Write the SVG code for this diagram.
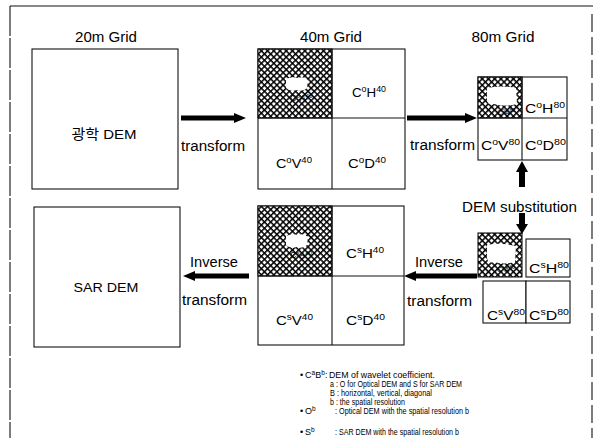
<svg xmlns="http://www.w3.org/2000/svg" width="595" height="438" viewBox="0 0 595 438">
<defs>
<pattern id="hatch" patternUnits="userSpaceOnUse" width="4.4" height="4.4" patternTransform="rotate(45)">
<rect width="4.4" height="4.4" fill="#fff"/>
<rect width="4.4" height="1.5" fill="#000"/>
<rect width="1.5" height="4.4" fill="#000"/>
</pattern>
<style>
text{font-family:"Liberation Sans",Arial,sans-serif;fill:#000}
.box{fill:#fff;stroke:#111;stroke-width:1.1}
.hat{fill:url(#hatch);stroke:#111;stroke-width:1.1}
.ln{stroke:#111;stroke-width:1.1;fill:none}
.title{font-size:14px}
.lbl{font-size:13.5px}
.sup{font-size:9px}
.arr{fill:#000}
.cap{font-size:14px}
.leg{font-size:9px}
.lsup{font-size:6.5px}
.blob{fill:#fff}
</style>
</defs>
<rect width="595" height="438" fill="#fff"/>
<g id="frame">
<path class="ln" d="M10,6 H593"/>
<path class="ln" d="M10,6 V438" stroke-dasharray="30 2"/>
<path class="ln" d="M592,14 V438" stroke-dasharray="18 5"/>
</g>
<g id="titles">
<text class="title" x="106" y="42" text-anchor="middle" textLength="62" lengthAdjust="spacingAndGlyphs">20m Grid</text>
<text class="title" x="331" y="42" text-anchor="middle" textLength="62" lengthAdjust="spacingAndGlyphs">40m Grid</text>
<text class="title" x="503" y="42" text-anchor="middle" textLength="63" lengthAdjust="spacingAndGlyphs">80m Grid</text>
</g>
<g id="optical-dem">
<rect class="box" x="32" y="49" width="146" height="140"/>
<text class="lbl" x="104" y="139" text-anchor="middle" style="font-family:'Liberation Sans','Noto Sans CJK KR',sans-serif" textLength="65" lengthAdjust="spacingAndGlyphs">광학 DEM</text>
</g>
<g id="optical-40">
<rect class="box" x="258" y="49" width="147" height="140"/>
<rect class="hat" x="258" y="49" width="74" height="69"/>
<path class="blob" d="M286,79 Q292,76 298,78 Q304,76 308,80 L307,88 Q303,92 297,90 Q290,92 286,88 Z"/>
<text class="sup" x="290" y="101">C<tspan dy="-3" style="font-size:6px">o</tspan><tspan dy="3">A</tspan><tspan dy="-3" style="font-size:6px">40</tspan></text>
<path class="ln" d="M332,49 V189 M258,118 H405"/>
<text class="lbl" x="352" y="97" textLength="34" lengthAdjust="spacingAndGlyphs">C<tspan class="sup" dy="-5">o</tspan><tspan dy="5">H</tspan><tspan class="sup" dy="-5">40</tspan></text>
<text class="lbl" x="276" y="168" textLength="36" lengthAdjust="spacingAndGlyphs">C<tspan class="sup" dy="-5">o</tspan><tspan dy="5">V</tspan><tspan class="sup" dy="-5">40</tspan></text>
<text class="lbl" x="348" y="168" textLength="38" lengthAdjust="spacingAndGlyphs">C<tspan class="sup" dy="-5">o</tspan><tspan dy="5">D</tspan><tspan class="sup" dy="-5">40</tspan></text>
</g>
<g id="optical-80">
<rect class="box" x="478" y="77" width="89" height="83"/>
<rect class="hat" x="478" y="77" width="44" height="41"/>
<path class="blob" d="M487,88 Q500,85 516,88 L517,104 Q505,107 494,104 Q488,106 487,100 Z"/>
<text class="sup" x="497" y="115" style="font-size:7px">C<tspan dy="-3" style="font-size:5px">o</tspan><tspan dy="3">A</tspan><tspan dy="-3" style="font-size:5px">80</tspan></text>
<path class="ln" d="M522,77 V160 M478,118 H567"/>
<text class="lbl" x="525" y="113" textLength="40" lengthAdjust="spacingAndGlyphs">C<tspan class="sup" dy="-5">o</tspan><tspan dy="5">H</tspan><tspan class="sup" dy="-5">80</tspan></text>
<text class="lbl" x="481" y="150" textLength="39" lengthAdjust="spacingAndGlyphs">C<tspan class="sup" dy="-5">o</tspan><tspan dy="5">V</tspan><tspan class="sup" dy="-5">80</tspan></text>
<text class="lbl" x="525" y="150" textLength="41" lengthAdjust="spacingAndGlyphs">C<tspan class="sup" dy="-5">o</tspan><tspan dy="5">D</tspan><tspan class="sup" dy="-5">80</tspan></text>
</g>
<g id="sar-80">
<rect class="box" x="526" y="239" width="44" height="38"/>
<rect class="box" x="483" y="281" width="43" height="42"/>
<rect class="box" x="526" y="281" width="44" height="42"/>
<rect class="hat" x="478" y="233" width="44" height="44"/>
<path class="blob" d="M487,245 Q500,242 516,246 L515,262 Q505,265 494,262 Q488,264 487,258 Z"/>
<text class="sup" x="497" y="272" style="font-size:7px">C<tspan dy="-3" style="font-size:5px">s</tspan><tspan dy="3">A</tspan><tspan dy="-3" style="font-size:5px">80</tspan></text>
<text class="lbl" x="529" y="273" textLength="40" lengthAdjust="spacingAndGlyphs">C<tspan class="sup" dy="-5">s</tspan><tspan dy="5">H</tspan><tspan class="sup" dy="-5">80</tspan></text>
<text class="lbl" x="487" y="320" textLength="38" lengthAdjust="spacingAndGlyphs">C<tspan class="sup" dy="-5">s</tspan><tspan dy="5">V</tspan><tspan class="sup" dy="-5">80</tspan></text>
<text class="lbl" x="529" y="320" textLength="40" lengthAdjust="spacingAndGlyphs">C<tspan class="sup" dy="-5">s</tspan><tspan dy="5">D</tspan><tspan class="sup" dy="-5">80</tspan></text>
</g>
<g id="sar-40">
<rect class="box" x="258" y="206" width="146" height="139"/>
<rect class="hat" x="258" y="206" width="74" height="70"/>
<path class="blob" d="M286,236 Q292,233 298,235 Q304,233 308,237 L307,245 Q303,249 297,247 Q290,249 286,245 Z"/>
<text class="sup" x="290" y="258">C<tspan dy="-3" style="font-size:6px">s</tspan><tspan dy="3">A</tspan><tspan dy="-3" style="font-size:6px">40</tspan></text>
<path class="ln" d="M332,206 V345 M258,276 H404"/>
<text class="lbl" x="346" y="258" textLength="38" lengthAdjust="spacingAndGlyphs">C<tspan class="sup" dy="-5">s</tspan><tspan dy="5">H</tspan><tspan class="sup" dy="-5">40</tspan></text>
<text class="lbl" x="276" y="325" textLength="37" lengthAdjust="spacingAndGlyphs">C<tspan class="sup" dy="-5">s</tspan><tspan dy="5">V</tspan><tspan class="sup" dy="-5">40</tspan></text>
<text class="lbl" x="346" y="325" textLength="39" lengthAdjust="spacingAndGlyphs">C<tspan class="sup" dy="-5">s</tspan><tspan dy="5">D</tspan><tspan class="sup" dy="-5">40</tspan></text>
</g>
<g id="sar-dem">
<rect class="box" x="34" y="207" width="146" height="140"/>
<text class="lbl" x="106" y="292" text-anchor="middle" textLength="65" lengthAdjust="spacingAndGlyphs">SAR DEM</text>
</g>
<g id="connectors">
<polygon class="arr" points="181,115.5 234,115.5 234,113 246,118 234,123 234,120.5 181,120.5"/>
<polygon class="arr" points="407,115.5 465,115.5 465,113 477,118 465,123 465,120.5 407,120.5"/>
<polygon class="arr" points="519,187 519,172 516,172 522,161 528,172 525,172 525,187"/>
<polygon class="arr" points="519,213 519,224 516,224 522,234 528,224 525,224 525,213"/>
<polygon class="arr" points="477,273.5 416,273.5 416,271 404,276 416,281 416,278.5 477,278.5"/>
<polygon class="arr" points="249,273.5 195,273.5 195,271 183,276 195,281 195,278.5 249,278.5"/>
<text class="cap" x="181" y="151" textLength="64" lengthAdjust="spacingAndGlyphs">transform</text>
<text class="cap" x="410" y="150" textLength="65" lengthAdjust="spacingAndGlyphs">transform</text>
<text class="title" x="462" y="212" textLength="115" lengthAdjust="spacingAndGlyphs">DEM substitution</text>
<text class="cap" x="415" y="267" textLength="48" lengthAdjust="spacingAndGlyphs">Inverse</text>
<text class="cap" x="407" y="306" textLength="65" lengthAdjust="spacingAndGlyphs">transform</text>
<text class="cap" x="190" y="267" textLength="48" lengthAdjust="spacingAndGlyphs">Inverse</text>
<text class="cap" x="182" y="305" textLength="65" lengthAdjust="spacingAndGlyphs">transform</text>
</g>
<g id="legend">
<text class="leg" x="300" y="378">•</text>
<text class="leg" x="305" y="378">C<tspan class="lsup" dy="-3">a</tspan><tspan dy="3">B</tspan><tspan class="lsup" dy="-3">b</tspan></text>
<text class="leg" x="325" y="378">:</text>
<text class="leg" x="329" y="378" textLength="106" lengthAdjust="spacingAndGlyphs">DEM of wavelet coefficient.</text>
<text class="leg" x="330" y="387" textLength="132" lengthAdjust="spacingAndGlyphs">a : O for Optical DEM and S for SAR DEM</text>
<text class="leg" x="330" y="396" textLength="102" lengthAdjust="spacingAndGlyphs">B : horizontal, vertical, diagonal</text>
<text class="leg" x="330" y="405" textLength="75" lengthAdjust="spacingAndGlyphs">b : the spatial resolution</text>
<text class="leg" x="300" y="414">•</text>
<text class="leg" x="305" y="414">O<tspan class="lsup" dy="-3">b</tspan></text>
<text class="leg" x="335" y="414" textLength="134" lengthAdjust="spacingAndGlyphs">: Optical DEM with the spatial resolution b</text>
<text class="leg" x="300" y="435">•</text>
<text class="leg" x="305" y="435">S<tspan class="lsup" dy="-3">b</tspan></text>
<text class="leg" x="335" y="435" textLength="124" lengthAdjust="spacingAndGlyphs">: SAR DEM with the spatial resolution b</text>
</g>
</svg>
